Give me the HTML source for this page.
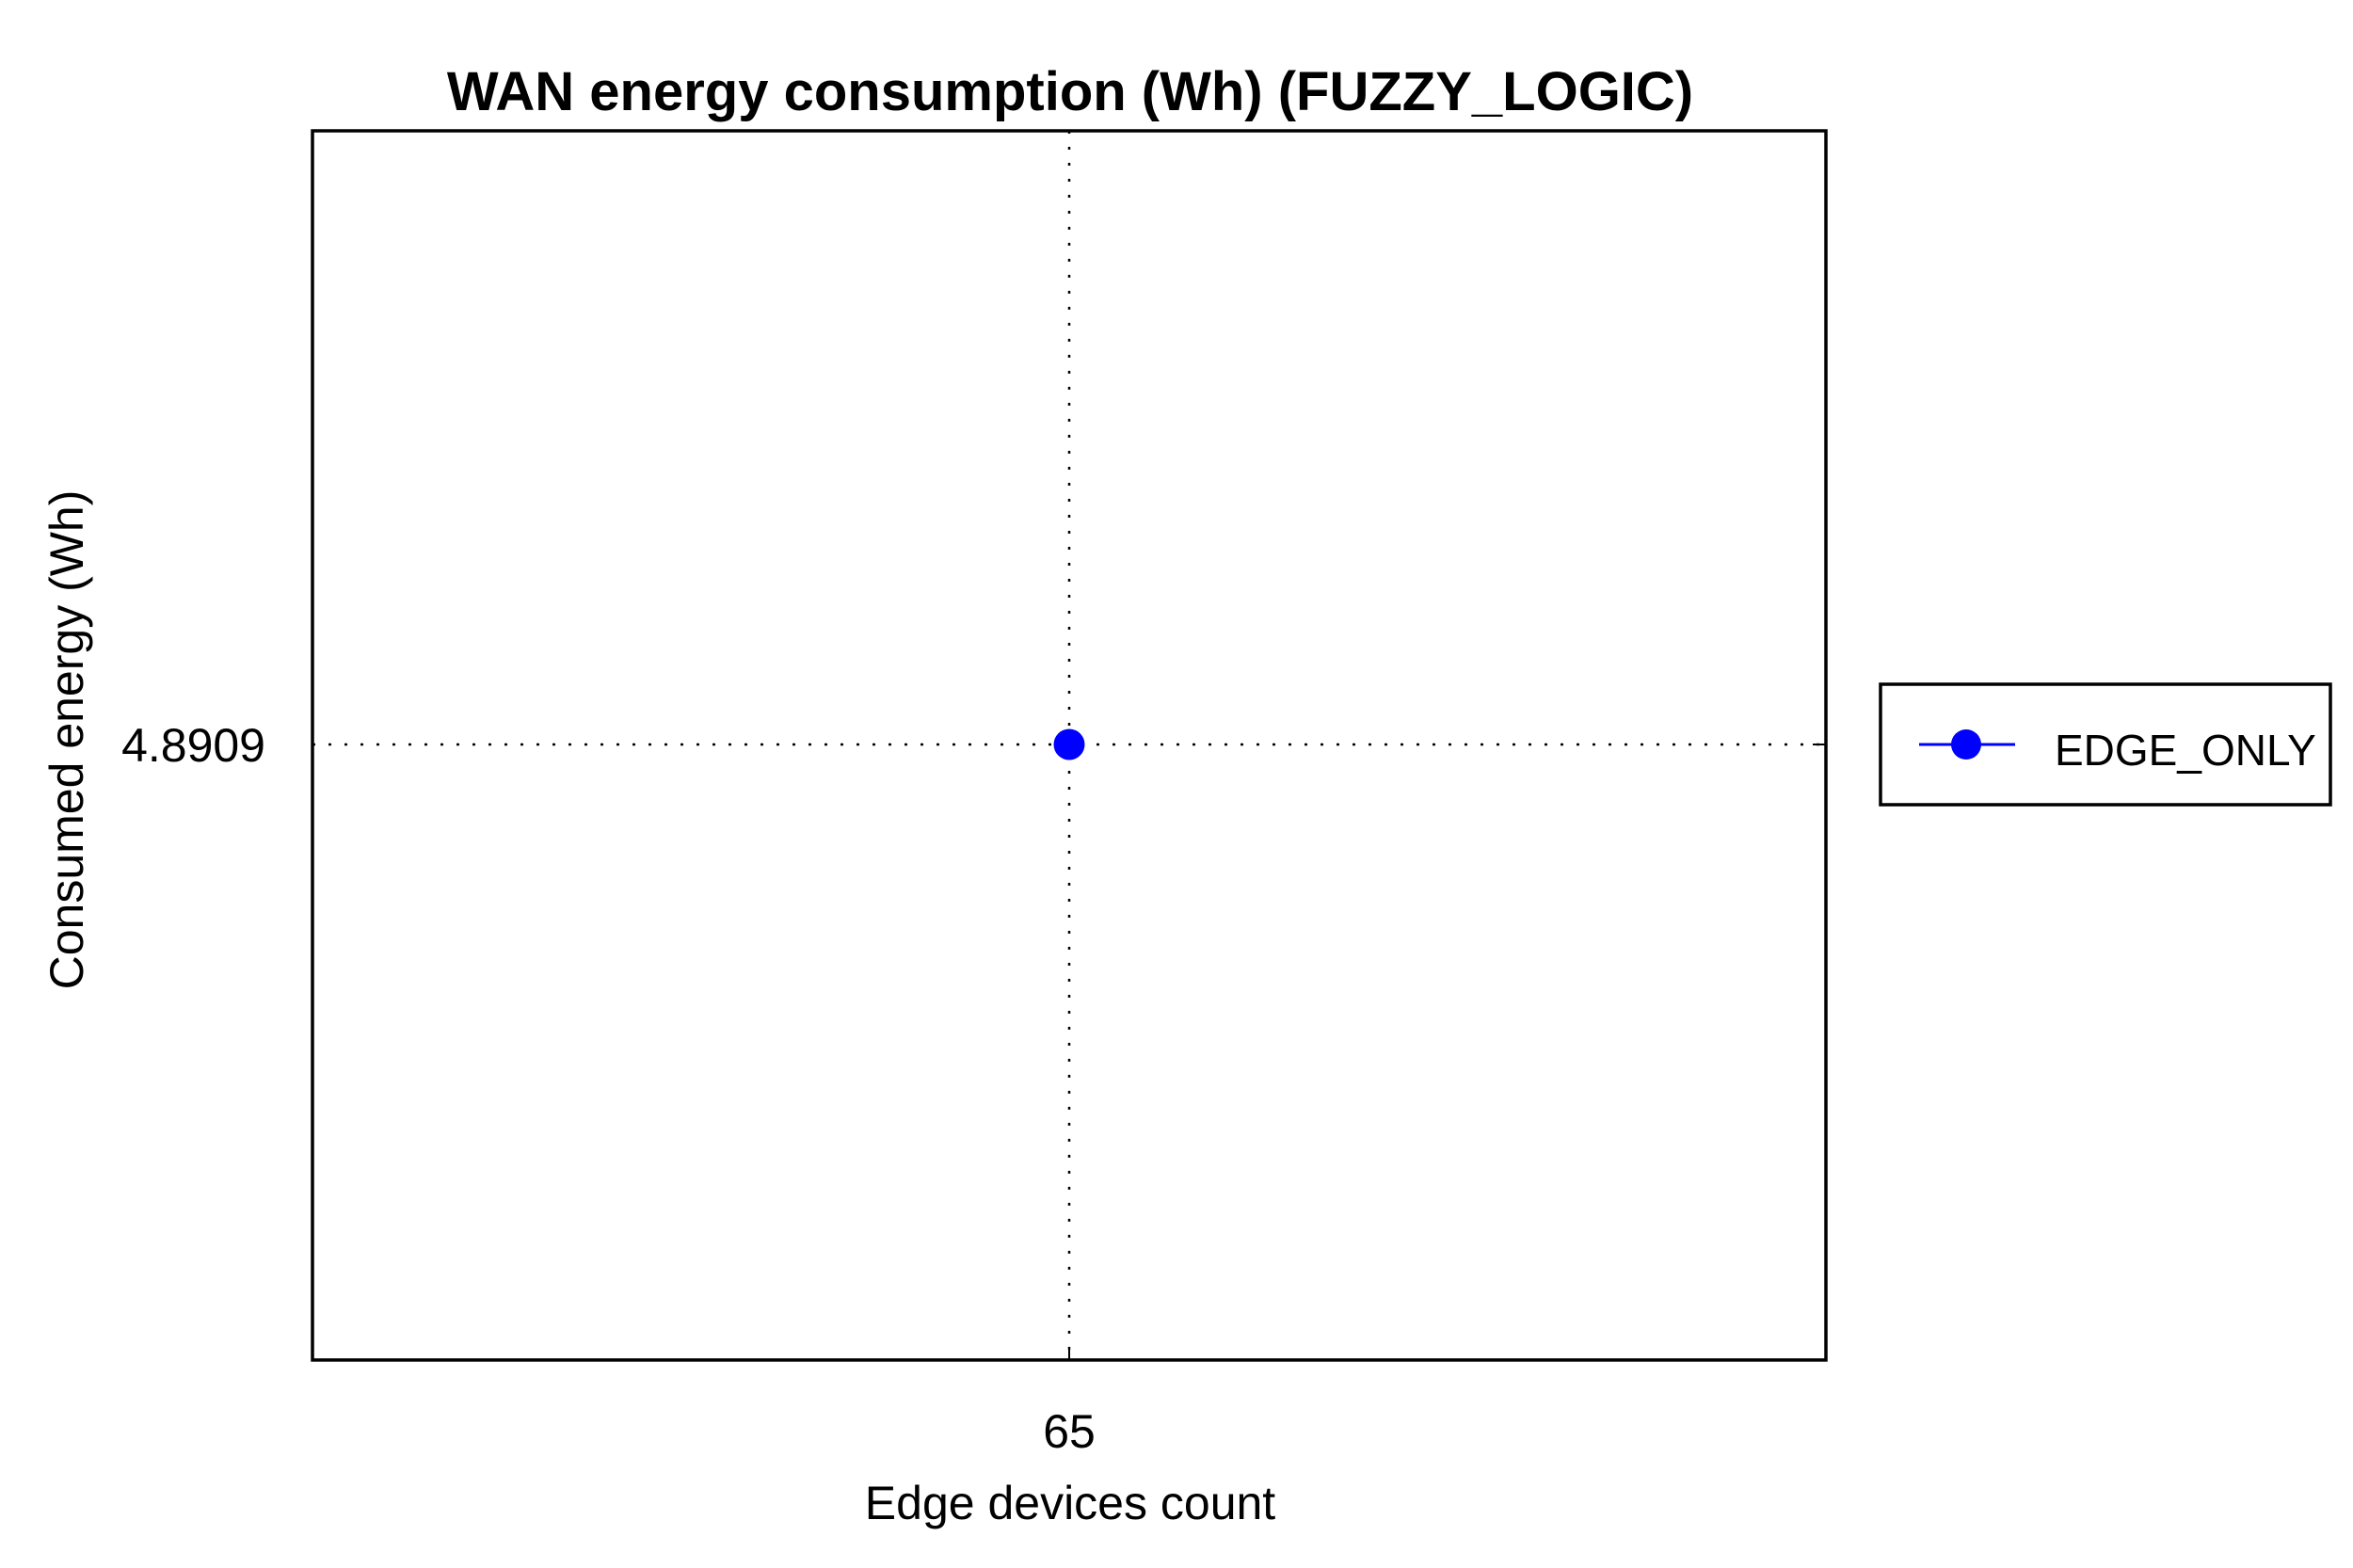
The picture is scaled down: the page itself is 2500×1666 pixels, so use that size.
<!DOCTYPE html>
<html><head><meta charset="utf-8"><style>body{margin:0;background:#fff}svg{display:block}text{font-family:"Liberation Sans",sans-serif}</style></head>
<body>
<svg id="chart" width="2500" height="1666" viewBox="0 0 2500 1666">
<rect width="2500" height="1666" fill="#fff"/>
<text x="1137" y="117" font-size="58" font-weight="bold" text-anchor="middle">WAN energy consumption (Wh) (FUZZY_LOGIC)</text>
<g id="plot"></g>
<rect x="332" y="139" width="1608" height="1306" fill="none" stroke="#000" stroke-width="3.5"/>
<text x="1137" y="1614" font-size="50" text-anchor="middle">Edge devices count</text>
<text transform="translate(88,786) rotate(-90)" font-size="50" text-anchor="middle">Consumed energy (Wh)</text>
<g>
<rect x="1998" y="727" width="478" height="128" fill="#fff" stroke="#000" stroke-width="3.5"/>
<line x1="2039" y1="791" x2="2141" y2="791" stroke="#00f" stroke-width="3"/>
<circle cx="2089" cy="791" r="16" fill="#00f"/>
<text x="2183" y="813" font-size="46">EDGE_ONLY</text>
</g>
</svg>
<script>
const categories = [65];
const seriesEdgeOnly = [4.8909];
const yTickLabels = ["4.8909"];
const xTickLabels = ["65"];
const L=332,R=1940,T=139,B=1445;
const xMin=64, xMax=66, yMin=4.8909-0.5, yMax=4.8909+0.5;
const xs=v=>L+(v-xMin)/(xMax-xMin)*(R-L);
const ys=v=>B-(v-yMin)/(yMax-yMin)*(B-T)+ (791-792);
const g=document.getElementById('plot');
const NS='http://www.w3.org/2000/svg';
function mk(t,a){const e=document.createElementNS(NS,t);for(const k in a)e.setAttribute(k,a[k]);g.appendChild(e);return e;}
categories.forEach((c,i)=>{
  const x=xs(c);
  const gl=mk('line',{x1:x,y1:T,x2:x,y2:B,stroke:'#000','stroke-width':2.5,'stroke-dasharray':'3 14'});
  
  
  const tk=mk('line',{x1:x,y1:B,x2:x,y2:B-14,stroke:'#000','stroke-width':2});
  
  
  const tx=mk('text',{x:x,y:1538,'font-size':50,'text-anchor':'middle'});
  tx.textContent=xTickLabels[i];
  
  
});
seriesEdgeOnly.forEach((v,i)=>{
  const y=ys(v);
  const gl=mk('line',{x1:L,y1:y,x2:R,y2:y,stroke:'#000','stroke-width':2.5,'stroke-dasharray':'3 14'});
  
  
  const tk=mk('line',{x1:R,y1:y,x2:R-14,y2:y,stroke:'#000','stroke-width':2});
  
  
  const tx=mk('text',{x:282,y:y+18,'font-size':50,'text-anchor':'end'});
  tx.textContent=yTickLabels[i];
  
  
  const p=mk('circle',{cx:xs(categories[i]),cy:y,r:16.5,fill:'#00f'});
  
  
});
</script>
</body></html>
